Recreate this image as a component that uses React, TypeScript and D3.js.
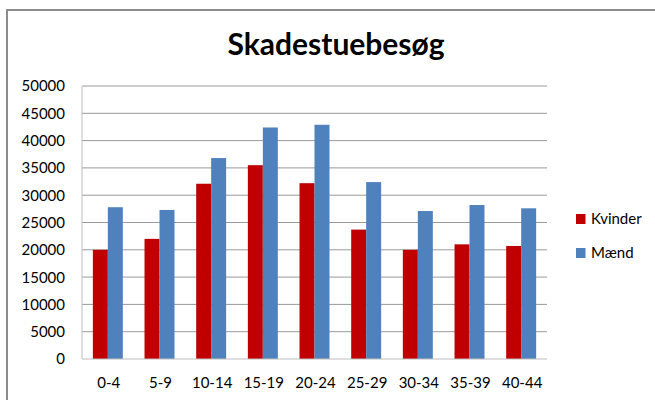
import * as d3 from "d3";

const CATEGORIES = ["0-4", "5-9", "10-14", "15-19", "20-24", "25-29", "30-34", "35-39", "40-44"];
const SERIES = ["Kvinder", "Mænd"];
const KVINDER = [20000, 22000, 32100, 35500, 32200, 23700, 20000, 21000, 20700];
const MAEND = [27800, 27300, 36800, 42400, 42900, 32400, 27100, 28200, 27600];
const Y_TICKS = [0, 5000, 10000, 15000, 20000, 25000, 30000, 35000, 40000, 45000, 50000];
const COLORS = ["#C00000", "#4F81BD"];

const W = 655;
const H = 400;
const FONT = "Lato, 'Open Sans', sans-serif";

export default function App() {
  const plot = { left: 82, right: 547, top: 86, bottom: 359 };

  const x0 = d3
    .scaleBand<string>()
    .domain(CATEGORIES)
    .range([plot.left, plot.right])
    .paddingInner(0.42)
    .paddingOuter(0.21);
  const x1 = d3.scaleBand<string>().domain(SERIES).range([0, x0.bandwidth()]);
  const y = d3.scaleLinear().domain([0, 50000]).range([plot.bottom, plot.top]);

  const values = [KVINDER, MAEND];
  const labelX = d3.scalePoint<string>().domain(CATEGORIES).range([plot.left, plot.right]).padding(0.5);

  return (
    <svg
      width={W}
      height={H}
      style={{ position: "absolute", left: 0, top: 0, background: "#fff" }}
      fontFamily={FONT}
    >
      {/* chart frame */}
      <path d={`M7,${H} V10 H${W}`} fill="none" stroke="#8c8c8c" strokeWidth={2} />

      <text x={336} y={55} textAnchor="middle" fontSize={30} fontWeight="bold" fill="#000">
        Skadestuebesøg
      </text>

      {/* gridlines */}
      {Y_TICKS.filter((t) => t > 0).map((t) => (
        <line key={t} x1={plot.left} x2={plot.right} y1={y(t)} y2={y(t)} stroke="#9a9a9a" strokeWidth={1} />
      ))}
      <line x1={plot.left} x2={plot.left} y1={plot.top} y2={plot.bottom} stroke="#bdbdbd" />

      {/* bars */}
      {SERIES.map((s, si) =>
        CATEGORIES.map((c, ci) => (
          <rect
            key={s + c}
            x={x0(c)! + x1(s)!}
            y={y(values[si][ci])}
            width={x1.bandwidth()}
            height={plot.bottom - y(values[si][ci])}
            fill={COLORS[si]}
          />
        ))
      )}
      <line x1={plot.left} x2={plot.right} y1={plot.bottom} y2={plot.bottom} stroke="#bdbdbd" />

      {/* y labels */}
      {Y_TICKS.map((t) => (
        <text key={t} x={65} y={y(t)} dy="0.36em" textAnchor="end" fontSize={15} fill="#000">
          {t}
        </text>
      ))}

      {/* x labels */}
      {CATEGORIES.map((c) => (
        <text key={c} x={labelX(c)! + 1} y={388} textAnchor="middle" fontSize={15} fill="#000">
          {c}
        </text>
      ))}

      {/* legend */}
      {SERIES.map((s, i) => (
        <g key={s} transform={`translate(576,${214 + i * 34})`}>
          <rect width={9.5} height={10} fill={COLORS[i]} />
          <text x={15} y={5} dy="0.36em" fontSize={15} fill="#000">
            {s}
          </text>
        </g>
      ))}
    </svg>
  );
}
